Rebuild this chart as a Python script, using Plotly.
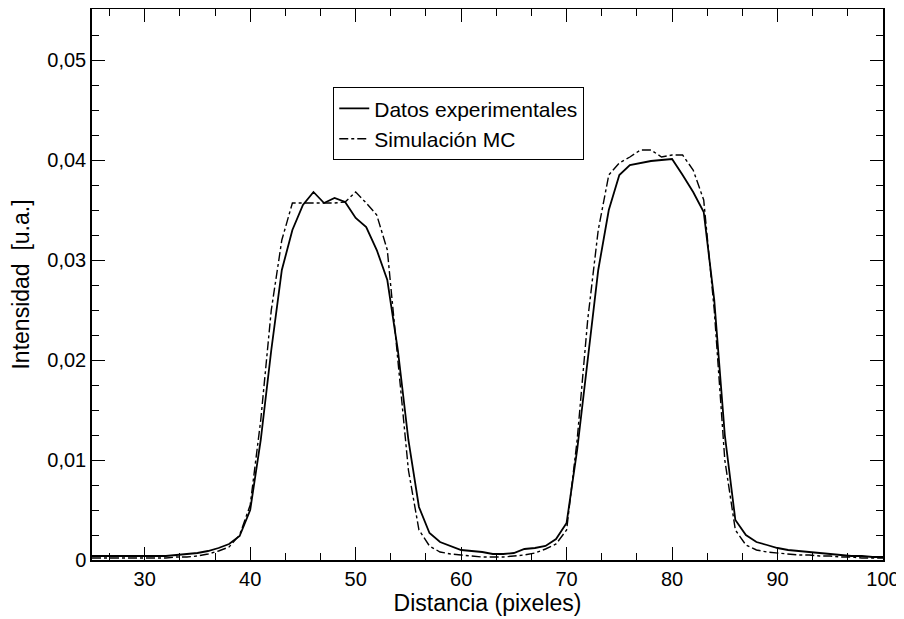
import plotly.graph_objects as go

# Pixel positions (x) for both series
distancia = list(range(25, 101))

datos_experimentales = [
    0.0004, 0.0004, 0.0004, 0.0004, 0.0004, 0.0004, 0.0004, 0.0004, 0.0005, 0.0006,  # 25-34
    0.0007, 0.0009, 0.0012, 0.0016, 0.0024, 0.0050, 0.0120, 0.0210, 0.0290, 0.0330,  # 35-44
    0.0355, 0.0368, 0.0357, 0.0362, 0.0358, 0.0342, 0.0333, 0.0310, 0.0280, 0.0210,  # 45-54
    0.0120, 0.0053, 0.0027, 0.0018, 0.0014, 0.0010, 0.0009, 0.0008, 0.0006, 0.0006,  # 55-64
    0.0007, 0.0011, 0.0012, 0.0014, 0.0021, 0.0037, 0.0110, 0.0200, 0.0290, 0.0350,  # 65-74
    0.0385, 0.0395, 0.0397, 0.0399, 0.0400, 0.0401, 0.0385, 0.0368, 0.0348, 0.0260,  # 75-84
    0.0125, 0.0040, 0.0025, 0.0018, 0.0015, 0.0012, 0.0010, 0.0009, 0.0008, 0.0007,  # 85-94
    0.0006, 0.0005, 0.0004, 0.0004, 0.0003, 0.0003,                                  # 95-100
]

simulacion_mc = [
    0.0002, 0.0002, 0.0002, 0.0002, 0.0002, 0.0002, 0.0002, 0.0002, 0.0003, 0.0003,  # 25-34
    0.0004, 0.0006, 0.0009, 0.0013, 0.0025, 0.0055, 0.0140, 0.0250, 0.0320, 0.0357,  # 35-44
    0.0357, 0.0357, 0.0357, 0.0357, 0.0358, 0.0368, 0.0357, 0.0345, 0.0310, 0.0200,  # 45-54
    0.0090, 0.0030, 0.0014, 0.0008, 0.0006, 0.0005, 0.0004, 0.0003, 0.0003, 0.0003,  # 55-64
    0.0004, 0.0005, 0.0007, 0.0011, 0.0016, 0.0030, 0.0120, 0.0240, 0.0330, 0.0385,  # 65-74
    0.0397, 0.0403, 0.0410, 0.0410, 0.0403, 0.0405, 0.0405, 0.0390, 0.0360, 0.0250,  # 75-84
    0.0100, 0.0030, 0.0015, 0.0010, 0.0008, 0.0007, 0.0006, 0.0005, 0.0005, 0.0004,  # 85-94
    0.0004, 0.0003, 0.0003, 0.0002, 0.0002, 0.0002,                                  # 95-100
]

serie_nombres = ["Datos experimentales", "Simulación MC"]

x_tickvals = [30, 40, 50, 60, 70, 80, 90, 100]
x_ticktext = ["30", "40", "50", "60", "70", "80", "90", "100"]
y_tickvals = [0, 0.01, 0.02, 0.03, 0.04, 0.05]
y_ticktext = ["0", "0,01", "0,02", "0,03", "0,04", "0,05"]

FONT = "Liberation Sans, Arial, sans-serif"

fig = go.Figure()
fig.add_trace(go.Scatter(
    x=distancia, y=datos_experimentales, mode="lines", name=serie_nombres[0],
    line=dict(color="black", width=1.8),
))
fig.add_trace(go.Scatter(
    x=distancia, y=simulacion_mc, mode="lines", name=serie_nombres[1],
    line=dict(color="black", width=1.4, dash="dashdot"),
))

axis_common = dict(
    showline=True, linecolor="black", linewidth=1.5, mirror="allticks",
    ticks="inside", ticklen=13, tickwidth=1.2, tickcolor="black",
    showgrid=False, zeroline=False,
    tickfont=dict(family=FONT, size=20, color="black"),
)

fig.update_xaxes(
    range=[25, 100], tickvals=x_tickvals, ticktext=x_ticktext,
    minor=dict(ticks="inside", ticklen=7, tickwidth=1, tickcolor="black",
               tick0=30, dtick=10 / 3, showgrid=False),
    title=dict(text="Distancia (pixeles)", font=dict(family=FONT, size=23, color="black"),
               standoff=1),
    **axis_common,
)
fig.update_yaxes(
    range=[0, 0.0551], tickvals=y_tickvals, ticktext=y_ticktext,
    minor=dict(ticks="inside", ticklen=7, tickwidth=1, tickcolor="black",
               tick0=0, dtick=0.0025, showgrid=False),
    title=dict(text="Intensidad  [u.a.]", font=dict(family=FONT, size=23, color="black"),
               standoff=11),
    **axis_common,
)

# page body has an 8px default margin, so the figure is 8px smaller and margins shifted
fig.update_layout(
    width=896, height=611,
    margin=dict(l=84, r=21, t=1, b=59, autoexpand=False),
    paper_bgcolor="white", plot_bgcolor="white",
    showlegend=True,
    legend=dict(
        x=0.305, y=0.858, xanchor="left", yanchor="top",
        bgcolor="white", bordercolor="black", borderwidth=1,
        font=dict(family=FONT, size=21, color="black"),
        tracegroupgap=0, itemwidth=30,
    ),
)

fig.write_html("out.html")
